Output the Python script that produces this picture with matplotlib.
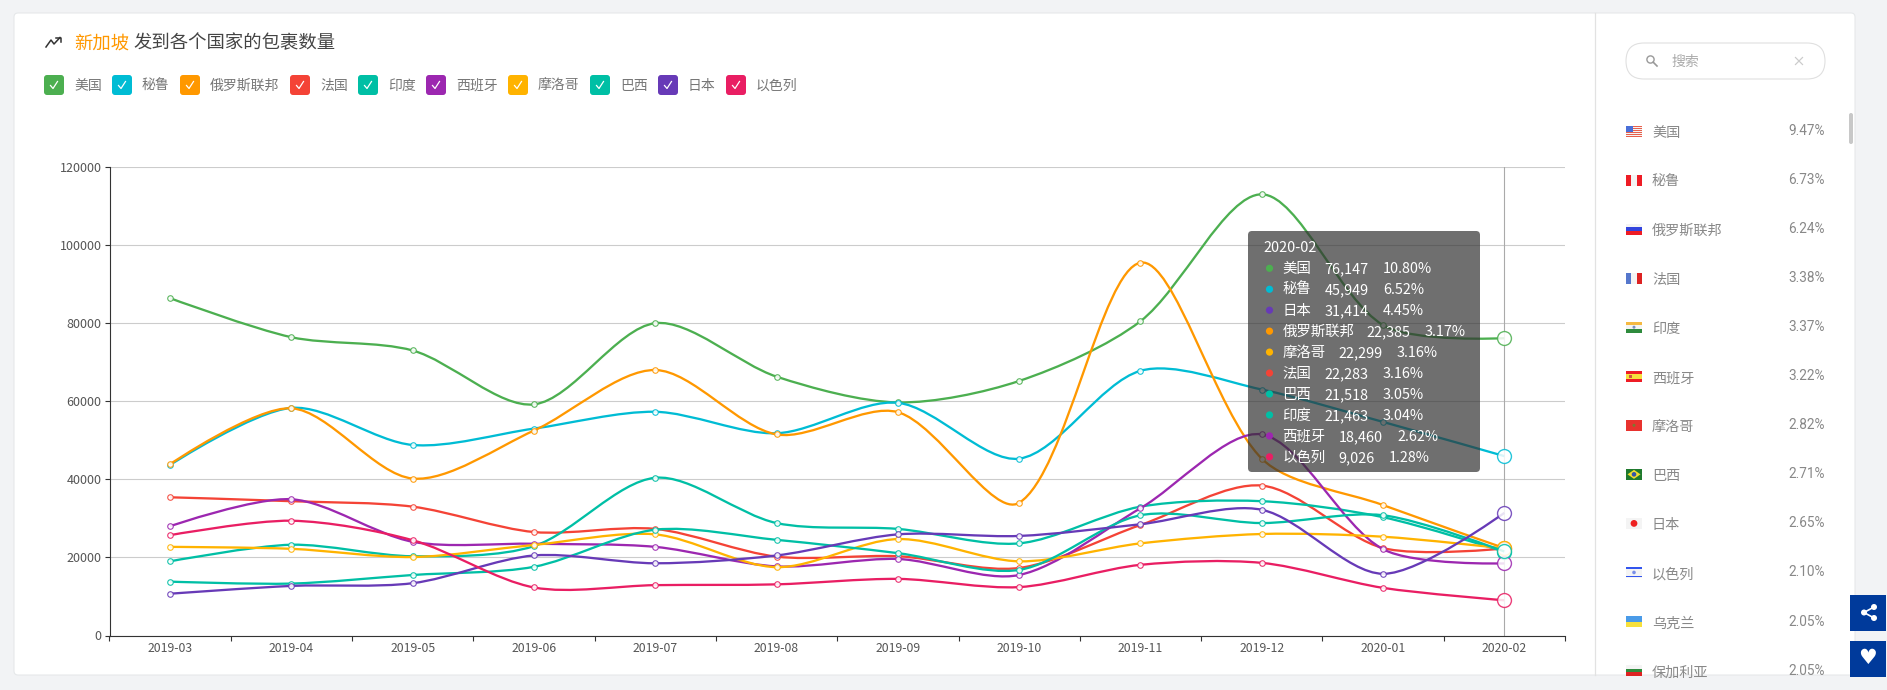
import numpy as np
import matplotlib
matplotlib.use('Agg')
import matplotlib.pyplot as plt
from matplotlib.patches import FancyBboxPatch, PathPatch, Rectangle, Circle, Polygon
from matplotlib.path import Path

plt.rcParams['font.family'] = ['Noto Sans CJK SC', 'DejaVu Sans']

months = ['2019-03', '2019-04', '2019-05', '2019-06', '2019-07', '2019-08',
          '2019-09', '2019-10', '2019-11', '2019-12', '2020-01', '2020-02']

names = ['美国', '秘鲁', '俄罗斯联邦', '法国', '印度', '西班牙', '摩洛哥', '巴西', '日本', '以色列']
colors = ['#4CAF50', '#00BCD4', '#FF9800', '#F44336', '#00BFA5',
          '#9C27B0', '#FFB300', '#00BFA5', '#673AB7', '#E91E63']

usa = [86400, 76400, 73000, 59200, 80000, 66300, 59700, 65200, 80500, 113000, 79500, 76147]
peru = [43700, 58300, 48800, 53000, 57300, 51800, 59600, 45300, 67800, 63000, 54700, 45949]
russia = [43900, 58200, 40200, 52500, 68000, 51500, 57200, 34000, 95500, 45300, 33400, 22385]
france = [35400, 34400, 33000, 26500, 27300, 20200, 20300, 17300, 28300, 38400, 22400, 22283]
india = [19000, 23250, 20300, 22900, 40400, 28800, 27300, 23600, 33000, 34400, 30300, 21463]
spain = [28000, 34900, 24000, 23500, 22700, 17700, 19600, 15500, 32600, 51500, 22100, 18460]
morocco = [22700, 22200, 20100, 23200, 25900, 17500, 24700, 19000, 23600, 26000, 25300, 22299]
brazil = [13800, 13300, 15500, 17600, 27100, 24500, 21100, 16800, 30800, 28800, 30800, 21518]
japan = [10700, 12700, 13400, 20500, 18500, 20500, 25900, 25500, 28500, 32200, 15800, 31414]
israel = [25700, 29400, 24400, 12300, 12900, 13100, 14500, 12400, 18100, 18600, 12200, 9026]
series = [usa, peru, russia, france, india, spain, morocco, brazil, japan, israel]

month_share = ['10.80%', '6.52%', '3.17%', '3.16%', '3.04%', '2.62%', '3.16%', '3.05%', '4.45%', '1.28%']

side_names = ['美国', '秘鲁', '俄罗斯联邦', '法国', '印度', '西班牙', '摩洛哥', '巴西', '日本', '以色列', '乌克兰', '保加利亚']
side_share = ['9.47%', '6.73%', '6.24%', '3.38%', '3.37%', '3.22%', '2.82%', '2.71%', '2.65%', '2.10%', '2.05%', '2.05%']

W, H = 1887, 690
fig = plt.figure(figsize=(W / 100, H / 100), dpi=100, facecolor='#f2f3f5')


def pixel_axes(zorder):
    a = fig.add_axes([0, 0, 1, 1], zorder=zorder)
    a.set_xlim(0, W)
    a.set_ylim(H, 0)
    a.axis('off')
    a.patch.set_alpha(0)
    return a


# page and card behind the chart
bg = pixel_axes(0)
bg.add_patch(FancyBboxPatch((14, 13), 1841, 662, boxstyle='round,pad=0,rounding_size=4',
                            fc='white', ec='#e6e8ea', lw=0.8))
bg.plot([1595, 1595], [13, 675], color='#e2e2e2', lw=0.9)

# line chart
left, right, top, bottom = 109.5, 1565, 167, 635.5
ax = fig.add_axes([left / W, 1 - bottom / H, (right - left) / W, (bottom - top) / H], zorder=1)
ax.patch.set_alpha(0)
ax.set_xlim(-0.5, 11.5)
ax.set_ylim(0, 120000)
for s in ['top', 'right']:
    ax.spines[s].set_visible(False)
for s in ['left', 'bottom']:
    ax.spines[s].set_color('#333333')
    ax.spines[s].set_linewidth(0.8)
ax.set_yticks(np.arange(0, 120001, 20000))
ax.yaxis.grid(True, color='#cccccc', lw=0.8)
ax.set_axisbelow(True)
ax.set_xticks(np.arange(-0.5, 12, 1))
ax.set_xticklabels([])
ax.set_xticks(np.arange(12), minor=True)
ax.set_xticklabels(months, minor=True, fontsize=8.8, color='#555555')
ax.tick_params(axis='x', which='major', length=3.6, width=0.8, color='#333333')
ax.tick_params(axis='x', which='minor', length=0, pad=4.5)
ax.tick_params(axis='y', length=3.6, width=0.8, color='#333333', labelsize=9, labelcolor='#555555', pad=2)
ax.axvline(11, color='#aaaaaa', lw=0.8, zorder=1.5)

# same sizes as used on screen, so the curve tension matches the original
sx = (right - left) / 12
sy = (bottom - top) / 120000


def smooth_path(xs, ys, smooth=0.3):
    pts = np.column_stack([xs, ys]).astype(float)
    scale = np.array([sx, sy])
    verts = [pts[0]]
    codes = [Path.MOVETO]
    n = len(pts)
    for i in range(n - 1):
        p0, p1 = pts[i], pts[i + 1]
        if i == 0:
            c0 = p0
        else:
            v = pts[i + 1] - pts[i - 1]
            a = np.linalg.norm((p0 - pts[i - 1]) * scale)
            b = np.linalg.norm((p1 - p0) * scale)
            c0 = p0 + v * b / (a + b) * smooth
        if i == n - 2:
            c1 = p1
        else:
            v = pts[i + 2] - p0
            a = np.linalg.norm((p1 - p0) * scale)
            b = np.linalg.norm((pts[i + 2] - p1) * scale)
            c1 = p1 - v * a / (a + b) * smooth
        verts += [c0, c1, p1]
        codes += [Path.CURVE4] * 3
    return Path(verts, codes)


xs = np.arange(len(months))
for i, (vals, col) in enumerate(zip(series, colors)):
    z = 3 + i * 0.1
    ax.add_patch(PathPatch(smooth_path(xs, vals), fc='none', ec=col, lw=1.65, zorder=z, clip_on=False))
    ax.plot(xs[:-1], vals[:-1], ls='none', marker='o', ms=4.0, mfc='white', mec=col, mew=0.8,
            alpha=0.9, zorder=z + 0.01)
    ax.plot(xs[-1:], vals[-1:], ls='none', marker='o', ms=10, mfc='white', mec=col, mew=1.0,
            alpha=0.85, zorder=z + 0.02, clip_on=False)

# everything else sits on top
ui = pixel_axes(2)

# title
ui.plot([46, 51, 54, 60], [47, 40, 44, 37.5], color='#333333', lw=1.1)
ui.plot([56, 60.5, 60.5], [37.5, 37.5, 42], color='#333333', lw=1.1)
ui.text(74.5, 43.5, '新加坡', color='#ff9800', fontsize=13.2, va='center')
ui.text(133, 43.5, '发到各个国家的包裹数量', color='#444444', fontsize=13.2, va='center')

# legend
lx = 44
for name, col in zip(names, colors):
    ui.add_patch(FancyBboxPatch((lx, 75), 20, 20, boxstyle='round,pad=0,rounding_size=3', fc=col, ec='none'))
    ui.plot([lx + 6.5, lx + 9, lx + 13.5], [85.5, 88.5, 81.5], color='white', lw=0.9)
    ui.text(lx + 30, 86, name, color='#777777', fontsize=10, va='center')
    lx += 20 + 10 + 14 * len(name) + 10

# tooltip
ui.add_patch(FancyBboxPatch((1248, 231), 232, 241, boxstyle='round,pad=0,rounding_size=4',
                            fc=(50 / 255, 50 / 255, 50 / 255, 0.7), ec='none'))
ui.text(1263, 247.5, months[-1], color='white', fontsize=10.4, va='center')
order = sorted(range(len(names)), key=lambda k: -series[k][-1])
for row, k in enumerate(order):
    y = 268.3 + row * 20.95
    ui.add_patch(Circle((1269.5, y), 3.6, fc=colors[k], ec='none'))
    ui.text(1282.3, y + 1, names[k], color='white', fontsize=10.4, va='center')
    vx = 1282.3 + 14 * len(names[k]) + 14
    val = f'{series[k][-1]:,}'
    ui.text(vx, y + 1, val, color='white', fontsize=10.4, va='center')
    ui.text(vx + (58.7 if len(val) == 6 else 50.7), y + 1, month_share[k], color='white', fontsize=10.4, va='center')

# search box
ui.add_patch(FancyBboxPatch((1626, 43), 199, 36, boxstyle='round,pad=0,rounding_size=18', fc='white', ec='#e0e0e0', lw=0.8))
ui.add_patch(Circle((1650.5, 59.5), 3.6, fc='none', ec='#999999', lw=1.0))
ui.plot([1653.2, 1657], [62.2, 66], color='#999999', lw=1.2)
ui.text(1671, 61.5, '搜索', color='#aaaaaa', fontsize=10, va='center')
ui.plot([1795.5, 1802.5], [57.5, 64.5], color='#cccccc', lw=0.9)
ui.plot([1795.5, 1802.5], [64.5, 57.5], color='#cccccc', lw=0.9)


# small flags in the side list
def flag(name, x, y, clip):
    w, h = 16, 11
    y0 = y - h / 2
    def r(rx, ry, rw, rh, c):
        ui.add_patch(Rectangle((x + rx, y0 + ry), rw, rh, fc=c, ec='none', clip_path=clip))
    r(0, 0, w, h, '#f4f4f4')
    if name == '美国':
        for j in range(0, 11, 2):
            r(0, j, w, 1, '#e8604c')
        r(0, 0, 7, 6, '#4a6fd8')
    elif name == '秘鲁':
        r(0, 0, 5.3, h, '#ee1c25')
        r(10.7, 0, 5.3, h, '#ee1c25')
    elif name == '俄罗斯联邦':
        r(0, 3.7, w, 3.7, '#3344dd')
        r(0, 7.4, w, 3.6, '#ee1c25')
    elif name == '法国':
        r(0, 0, 5.3, h, '#5577cc')
        r(10.7, 0, 5.3, h, '#dd2222')
    elif name == '印度':
        r(0, 0, w, 3.7, '#f5b942')
        r(0, 7.4, w, 3.6, '#2e8b3d')
        ui.add_patch(Circle((x + 8, y), 1.5, fc='#7a8fc0', ec='none', clip_path=clip))
    elif name == '西班牙':
        r(0, 0, w, 2.8, '#ee1c25')
        r(0, 2.8, w, 5.4, '#f7e03c')
        r(0, 8.2, w, 2.8, '#ee1c25')
        r(3, 4, 2.5, 3, '#cc5544')
    elif name == '摩洛哥':
        r(0, 0, w, h, '#e8322e')
        ui.add_patch(Circle((x + 8, y), 1.5, fc='#7a7a30', ec='none', clip_path=clip))
    elif name == '巴西':
        r(0, 0, w, h, '#1f7a2e')
        ui.add_patch(Polygon([(x + 1.5, y), (x + 8, y0 + 1), (x + 14.5, y), (x + 8, y0 + 10)],
                             fc='#f2dd30', ec='none', clip_path=clip))
        ui.add_patch(Circle((x + 8, y), 2.3, fc='#3355aa', ec='none', clip_path=clip))
    elif name == '日本':
        ui.add_patch(Circle((x + 8, y), 3.4, fc='#ee2222', ec='none', clip_path=clip))
    elif name == '以色列':
        r(0, 0.5, w, 1.2, '#3355ee')
        r(0, 9.3, w, 1.2, '#3355ee')
        ui.add_patch(Circle((x + 8, y), 1.8, fc='#7a8fe8', ec='none', clip_path=clip))
    elif name == '乌克兰':
        r(0, 0, w, 5.5, '#4a9be8')
        r(0, 5.5, w, 5.5, '#f7e03c')
    elif name == '保加利亚':
        r(0, 3.7, w, 3.7, '#2e8b3d')
        r(0, 7.4, w, 3.6, '#dd2222')


# clipped at the card edge, the last row is cut off there
clip_rect = Rectangle((1596, 13), 259, 662, transform=ui.transData)
for i, (name, share) in enumerate(zip(side_names, side_share)):
    y = 131 + i * 49.05
    flag(name, 1626, y, clip_rect)
    ui.text(1652, y + 2, name, color='#888888', fontsize=10.2, va='center', clip_path=clip_rect, clip_on=True)
    ui.text(1825, y, share, color='#888888', fontsize=9.8, va='center', ha='right', family='Roboto')

# scrollbar
ui.add_patch(FancyBboxPatch((1849, 113), 4, 31, boxstyle='round,pad=0,rounding_size=2', fc='#c8c8c8', ec='none'))

# share and like buttons
ui.add_patch(Rectangle((1850, 595), 36, 36, fc='#003a9b', ec='none'))
ui.add_patch(Rectangle((1850, 641), 36, 36, fc='#003a9b', ec='none'))
ui.plot([1874, 1864, 1874], [607, 612.5, 618], color='white', lw=1.2)
for px, py in [(1874, 607), (1864, 612.5), (1874, 618)]:
    ui.add_patch(Circle((px, py), 3, fc='white', ec='none'))
ui.text(1868, 658, '♥', color='white', fontsize=15, ha='center', va='center', family='DejaVu Sans')

fig.savefig('out.png', dpi=100, facecolor=fig.get_facecolor())
